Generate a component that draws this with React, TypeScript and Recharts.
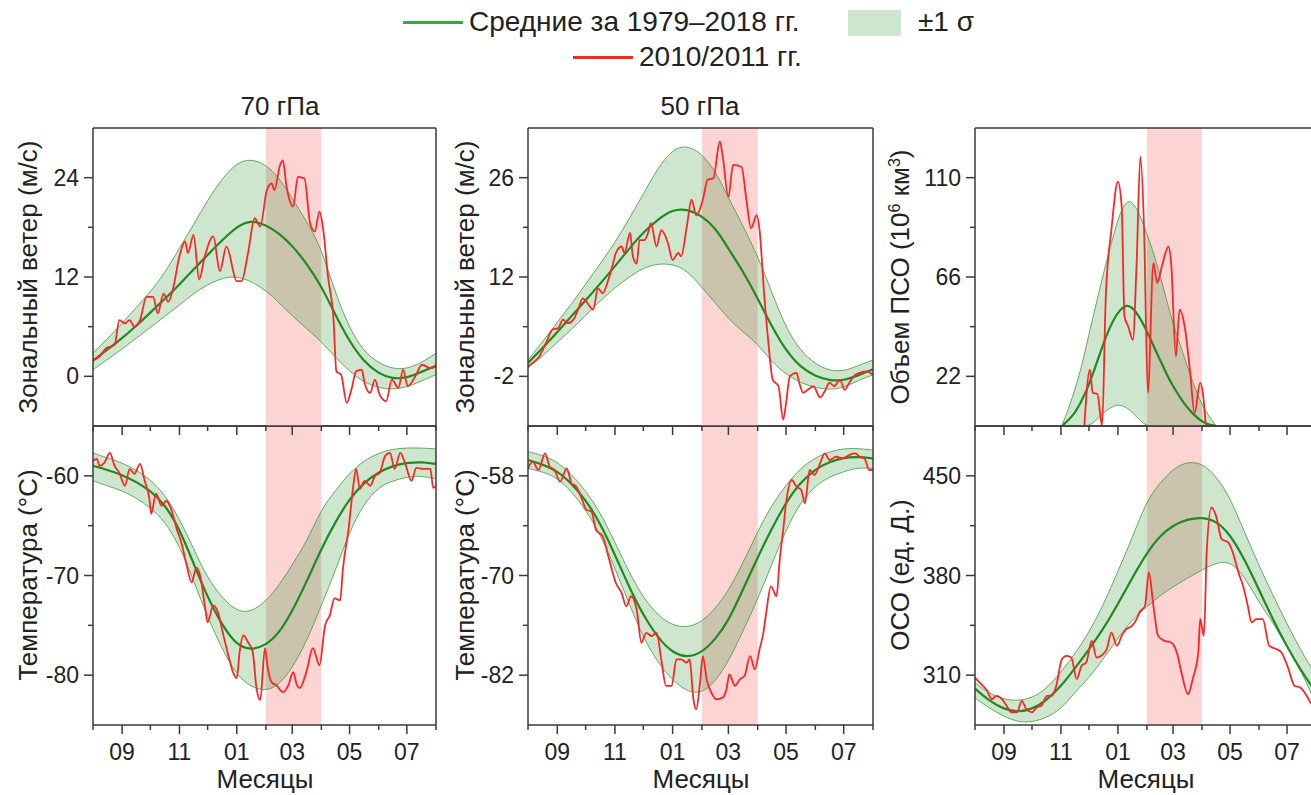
import { ComposedChart, Area, Line, XAxis, YAxis, ReferenceArea, ReferenceLine } from "recharts"

// days counted from 1 August
const bandDays = [0, 15, 31, 46, 61, 76, 92, 107, 122, 138, 153, 168, 184, 198, 212, 227, 243, 258, 273, 288, 304, 319, 334, 349, 365]
const monthTicks = [0, 31, 61, 92, 122, 153, 184, 212, 243, 273, 304, 334, 365]
const monthLabels: Record<number, string> = { 31: "09", 92: "11", 153: "01", 212: "03", 273: "05", 334: "07" }
const highlight = [184, 243]

// 70 hPa wind
const wind70Mean = [1.9, 3.2, 4.6, 6.1, 7.7, 9.3, 11.1, 12.9, 14.7, 16.5, 18.1, 18.9, 18.3, 17.3, 15.8, 13.7, 10.9, 7.4, 4.2, 1.8, 0.3, -0.3, -0.2, 0.5, 1.3]
const wind70Upper = [2.8, 4.5, 6.4, 8.3, 10.2, 12.4, 15.5, 18.3, 21.3, 24.0, 25.8, 26.3, 25.6, 24.0, 21.5, 18.8, 15.5, 10.0, 5.8, 3.0, 1.6, 0.9, 0.9, 1.6, 2.8]
const wind70Lower = [0.8, 2.0, 3.3, 4.6, 5.9, 7.2, 8.6, 10.0, 11.1, 11.9, 12.1, 11.5, 10.4, 8.9, 7.3, 5.8, 4.2, 2.3, 0.6, -0.7, -1.4, -1.6, -1.3, -0.6, 0.2]
const wind70Obs: [number, number][] = [
  [0, 2], [7, 2.4], [14, 3.4], [23, 3.8], [28, 6.8], [34, 6.4], [39, 6.8], [44, 6], [50, 6.8], [57, 9.6], [64, 9.6], [69, 7.6],
  [75, 10], [80, 9], [85, 10.5], [92, 14.5], [98, 16.3], [101, 14.9], [107, 17.1], [113, 11.7], [119, 14.5], [128, 16.9],
  [135, 12.7], [142, 15.7], [153, 11.5], [158, 11.5], [165, 14.9], [172, 19.1], [178, 18.1], [185, 22.5], [190, 23.3],
  [193, 22.5], [199, 25.5], [202, 26.1], [206, 22.9], [213, 20.5], [218, 24.1], [225, 23.9], [231, 18.5], [236, 17.5],
  [241, 19.9], [245, 17.7], [250, 12.1], [256, 6.8], [259, 0.6], [264, 0.2], [270, -3.2], [275, -1.6], [280, 0.6],
  [286, 0.8], [289, -0.8], [295, -2], [300, -0.4], [305, -2.2], [312, -3], [318, -0.4], [325, -1.4], [330, 0.8],
  [335, -1.2], [343, 0], [350, 1.4], [359, 1], [365, 1.2],
]

// 70 hPa temperature
const temp70Mean = [-59.0, -59.4, -59.9, -60.6, -61.5, -62.8, -65.3, -68.8, -72.2, -75.1, -77.0, -77.5, -77.0, -75.8, -73.6, -70.7, -67.3, -64.6, -62.3, -60.7, -59.6, -59.0, -58.7, -58.6, -58.8]
const temp70Upper = [-57.7, -58.2, -58.7, -59.4, -60.4, -61.8, -64.3, -67.3, -70.3, -72.3, -73.6, -73.7, -72.6, -71.0, -68.9, -66.7, -63.3, -61.5, -59.7, -58.5, -57.7, -57.3, -57.2, -57.2, -57.3]
const temp70Lower = [-60.5, -61.0, -61.5, -62.2, -63.2, -64.5, -67.0, -70.5, -74.2, -77.5, -80.0, -81.2, -81.6, -81.0, -79.3, -76.7, -73.0, -69.5, -65.6, -62.8, -61.1, -60.5, -60.1, -60.0, -60.3]
const temp70Obs: [number, number][] = [
  [0, -58.5], [4, -58.3], [7, -59], [12, -58.7], [18, -57.7], [23, -59], [28, -59.7], [34, -61], [39, -59.3], [44, -59.8],
  [50, -58.8], [55, -60.5], [60, -62.3], [62, -63.8], [67, -61.8], [73, -63], [78, -62.5], [83, -63.3], [89, -65.3],
  [94, -66.7], [99, -68.7], [105, -70.7], [110, -69.2], [114, -70], [119, -73], [122, -74.7], [128, -73], [133, -73.7],
  [138, -75.7], [144, -78], [149, -79.7], [153, -80.3], [156, -77.7], [160, -76], [165, -76.7], [170, -77.7], [174, -81.3],
  [178, -82.5], [183, -77.3], [186, -79.3], [190, -80.7], [195, -81], [202, -81.7], [208, -81], [213, -79.7], [217, -81],
  [220, -81.3], [227, -79.7], [234, -77.3], [241, -79], [247, -75], [252, -74], [257, -72.3], [263, -72.5], [266, -69.3],
  [272, -65.3], [277, -61], [280, -59.3], [284, -61.3], [289, -60.5], [295, -61], [300, -60], [305, -59.7], [311, -58],
  [316, -57.7], [321, -59.3], [327, -57.7], [332, -58.7], [339, -60.5], [344, -59.2], [351, -59.3], [359, -59.3],
  [362, -61.2], [365, -61],
]

// 50 hPa wind
const wind50Mean = [-0.1, 1.9, 4.2, 6.5, 8.7, 11.0, 13.5, 16.0, 18.3, 20.2, 21.5, 21.6, 20.6, 19.0, 16.0, 12.9, 9.0, 5.0, 1.6, -0.7, -2.0, -2.6, -2.6, -1.9, -1.0]
const wind50Upper = [0.3, 2.8, 5.6, 8.2, 11.0, 13.8, 16.8, 20.2, 23.7, 27.5, 30.0, 30.6, 29.4, 27.0, 23.2, 19.3, 15.0, 9.8, 4.8, 1.6, -0.3, -1.2, -1.3, -0.5, 0.3]
const wind50Lower = [-0.8, 0.8, 2.8, 4.6, 6.6, 8.6, 10.5, 12.0, 13.3, 13.9, 13.8, 13.0, 10.5, 8.4, 6.1, 4.3, 2.6, 0.0, -1.7, -2.9, -3.6, -3.9, -3.6, -2.6, -1.8]
const wind50Obs: [number, number][] = [
  [0, -0.6], [5, -0.1], [12, 0.8], [19, 2.7], [26, 4.6], [32, 4.8], [37, 6], [42, 5.5], [48, 6], [53, 7.4], [58, 9], [63, 8.3],
  [69, 7.4], [74, 10.4], [79, 9.7], [85, 11.6], [90, 13.9], [93, 15.4], [99, 16.3], [102, 15.4], [108, 18.2], [111, 14.9],
  [115, 13.9], [118, 17.2], [123, 17.2], [127, 18.2], [130, 19.6], [136, 16.3], [141, 18.6], [148, 16.8], [153, 14.4],
  [159, 15.4], [162, 14.9], [168, 19.1], [173, 22.9], [178, 20.7], [185, 22.9], [190, 25.7], [196, 25.9], [203, 31.1],
  [206, 29], [212, 23.3], [217, 27.8], [226, 27.5], [231, 22.9], [236, 18.9], [242, 20.7], [245, 18.6], [250, 9.3],
  [254, 3.2], [259, -2.5], [265, -3.4], [270, -8.1], [273, -5.8], [277, -2], [284, -1.5], [287, -2.9], [291, -4.3],
  [296, -3.9], [302, -3.4], [309, -5], [314, -4.1], [319, -2.9], [324, -3.4], [330, -2.5], [335, -3.9], [340, -2.9],
  [346, -1.8], [351, -1.5], [358, -1.3], [365, -1.8],
]

// 50 hPa temperature
const temp50Mean = [-56.1, -56.6, -57.4, -58.9, -60.9, -63.6, -67.5, -71.4, -74.8, -77.6, -79.3, -79.9, -79.3, -77.7, -75.5, -71.8, -67.8, -64.3, -61.2, -58.8, -57.2, -56.3, -55.8, -55.7, -55.9]
const temp50Upper = [-55.1, -55.5, -56.3, -57.8, -59.8, -62.3, -66.0, -69.6, -72.7, -74.9, -76.0, -76.3, -75.6, -74.0, -71.9, -68.6, -64.7, -61.5, -59.1, -57.1, -55.8, -55.1, -54.7, -54.7, -54.9]
const temp50Lower = [-57.1, -57.5, -58.2, -59.9, -62.1, -64.9, -69.1, -73.4, -77.5, -80.6, -82.6, -84.0, -84.2, -82.8, -80.4, -76.8, -72.9, -68.6, -64.5, -61.2, -59.2, -58.1, -57.5, -57.0, -57.1]
const temp50Obs: [number, number][] = [
  [0, -57.1], [5, -56.3], [11, -57.3], [18, -55.3], [23, -56.9], [28, -57.3], [34, -58.7], [41, -57.1], [46, -58.9],
  [51, -59.3], [56, -60.5], [62, -62.1], [67, -62.3], [72, -64.5], [79, -65.3], [86, -68.1], [93, -70.9], [99, -72.1],
  [104, -73.7], [109, -72.5], [115, -74.1], [120, -78.1], [125, -76.9], [131, -77.3], [136, -76.9], [141, -80.1],
  [146, -83.3], [152, -83.3], [157, -80.1], [162, -80.1], [168, -80.5], [171, -80.1], [175, -84.9], [178, -86.1],
  [182, -82.9], [185, -79.7], [189, -82.5], [194, -84.1], [199, -84.9], [206, -84.7], [210, -83.7], [213, -81.9],
  [219, -83.3], [224, -82.5], [229, -82.1], [235, -79.7], [240, -81.3], [245, -78.9], [249, -76.9], [252, -74.5],
  [257, -71.3], [263, -72.5], [266, -68.5], [270, -64.5], [273, -61.3], [279, -58.5], [284, -59.3], [289, -59.7],
  [293, -61.3], [298, -57.3], [303, -57.9], [309, -56.5], [314, -55.3], [319, -56.1], [326, -55.7], [333, -55.9],
  [340, -55.5], [346, -55.3], [351, -55.7], [356, -55.9], [361, -57.3], [365, -57.3],
]

// PSC volume
const psoDays = [93, 105, 114, 123, 132, 140, 148, 155, 162, 168, 176, 184, 191, 198, 205, 212, 219, 226, 233, 240, 248, 258]
const psoMean = [0, 4.3, 11, 19.1, 30, 39.7, 47, 51.5, 53.7, 52.8, 48.5, 42, 35.5, 29.4, 23, 17.6, 13, 8.7, 5.5, 2.9, 0.8, 0]
const psoUpper = [0, 13.2, 26, 42.6, 58, 72, 84, 94.3, 99.6, 99.6, 94.3, 85, 77, 67, 56, 45, 36.8, 28, 19.5, 12, 5.8, 0]
const psoLower = [0, 0, 0, 0, 3.5, 6.8, 8.8, 9.5, 8.2, 6.3, 2.6, 0, 0, 0, 0, 0, 0, 0, 0, 0, 0, 0]
const psoObs: [number, number][] = [
  [117, 0], [123, 25], [126, 14.7], [131, 14.2], [136, 0], [140, 57.4], [146, 86.9], [153, 108.2], [157, 97.2], [160, 48.5],
  [164, 44.1], [169, 38.2], [173, 72.1], [177, 119.3], [181, 86.9], [185, 14.7], [191, 72.1], [195, 63.3], [200, 70.6],
  [207, 79.4], [210, 72.1], [215, 30.8], [219, 51.5], [225, 42.6], [230, 25], [235, 5.8], [241, 19.1], [244, 14.2], [247, 0],
]

// total ozone
const ozoneMean = [300.6, 292, 286, 284, 286, 292, 302, 315, 328, 343, 360, 378, 396, 408, 415.3, 419.5, 421, 418.5, 409, 392, 370, 349, 330, 313, 298]
const ozoneUpper = [304.8, 297, 293, 292, 294, 300, 312, 325, 340, 360, 383, 406, 433, 445, 455, 460, 459, 450, 435, 411, 387, 366, 346, 327, 310]
const ozoneLower = [294, 287, 281, 277, 277, 280, 286, 298, 308, 322, 336, 349, 358, 366, 372, 378, 384, 389, 390, 380, 361, 347, 330, 313, 290]
const ozoneObs: [number, number][] = [
  [0, 308.3], [5, 304.8], [13, 299], [18, 293.1], [23, 295.5], [29, 293.1], [34, 288.4], [39, 283.8], [45, 283.8], [50, 292],
  [55, 286.1], [61, 283.8], [66, 287.3], [71, 288.4], [77, 295.5], [82, 295.5], [87, 302.5], [93, 321.2], [98, 323.6],
  [103, 322.4], [109, 307.2], [114, 316.5], [119, 318.9], [125, 334.1], [130, 322.4], [135, 323.6], [141, 328.2],
  [146, 339.9], [152, 330.6], [157, 337.6], [162, 342.3], [168, 344.6], [173, 349.3], [176, 354], [182, 358.7],
  [186, 382.1], [191, 358.7], [196, 337.6], [203, 334.1], [210, 332.9], [216, 325.9], [221, 311.9], [228, 296.6],
  [233, 307.2], [239, 325.9], [241, 349.3], [245, 337.6], [248, 396.1], [253, 427.8], [258, 421.9], [264, 405.5],
  [271, 403.2], [276, 396.1], [282, 382.1], [287, 372.7], [292, 358.7], [296, 347], [301, 349.3], [308, 349.3],
  [315, 330.6], [323, 328.2], [328, 325.9], [335, 315.4], [342, 302.5], [348, 301.3], [355, 295.5], [359, 290.8], [365, 287],
]

const FONT = '"Liberation Sans", Arial, sans-serif'
const AXIS = "#3a3a3a"
const TEXT = "#222"
const RED = "#ff2424"
const GREEN = "#1f8a1f"

type BandRow = { day: number; mean: number; range: [number, number] }
type ObsRow = { day: number; obs: number }

const bandRows = (days: number[], mean: number[], upper: number[], lower: number[]): BandRow[] =>
  days.map((day, i) => ({ day, mean: mean[i], range: [lower[i], upper[i]] }))
const obsRows = (pairs: [number, number][]): ObsRow[] => pairs.map(([day, obs]) => ({ day, obs }))

const xTick = (showLabel: boolean) => (props: any) => {
  const { x, y, payload } = props
  const label = monthLabels[payload.value]
  const len = label ? 9 : 5
  return (
    <g>
      <line x1={x} x2={x} y1={y} y2={y + len} stroke={AXIS} strokeWidth={1.5} />
      {showLabel && label && (
        <text x={x} y={y + 27} textAnchor="middle" dominantBaseline="central" fontSize={23} fill={TEXT} fontFamily={FONT}>
          {label}
        </text>
      )}
    </g>
  )
}

const yTick = (majors: number[]) => (props: any) => {
  const { x, y, payload } = props
  const major = majors.includes(payload.value)
  const len = major ? 9 : 5
  return (
    <g>
      <line x1={x - len} x2={x} y1={y} y2={y} stroke={AXIS} strokeWidth={1.5} />
      {major && (
        <text x={x - 14} y={y} textAnchor="end" dominantBaseline="central" fontSize={23} fill={TEXT} fontFamily={FONT}>
          {payload.value}
        </text>
      )}
    </g>
  )
}

type PanelProps = {
  left: number
  top: number
  width: number
  height: number
  yWidth: number
  xHeight: number
  domain: [number, number]
  major: number[]
  minor: number[]
  band: BandRow[]
  obs: ObsRow[]
  showLabels: boolean
}

function Panel(p: PanelProps) {
  return (
    <div style={{ position: "absolute", left: p.left, top: p.top }}>
      <ComposedChart width={p.width} height={p.height} margin={{ top: 5, right: 10, bottom: 0, left: 0 }}>
        <ReferenceArea x1={highlight[0]} x2={highlight[1]} fill="#fcd4d4" fillOpacity={1} stroke="none" />
        <Area
          data={p.band}
          dataKey="range"
          type="basis"
          fill="#1f8f1f"
          fillOpacity={0.22}
          stroke="#3f9a3f"
          strokeOpacity={0.8}
          strokeWidth={1}
          isAnimationActive={false}
        />
        <Line data={p.band} dataKey="mean" type="basis" stroke={GREEN} strokeWidth={2.2} dot={false} isAnimationActive={false} />
        <Line data={p.obs} dataKey="obs" type="monotone" stroke={RED} strokeWidth={1.8} dot={false} isAnimationActive={false} />
        <ReferenceLine y={p.domain[1]} stroke={AXIS} strokeWidth={1.5} ifOverflow="visible" />
        <ReferenceLine x={365} stroke={AXIS} strokeWidth={1.5} ifOverflow="visible" />
        <XAxis
          type="number"
          dataKey="day"
          domain={[0, 365]}
          ticks={monthTicks}
          interval={0}
          allowDataOverflow
          height={p.xHeight}
          tickLine={false}
          tickSize={0}
          tickMargin={0}
          tick={xTick(p.showLabels)}
          axisLine={{ stroke: AXIS, strokeWidth: 1.5 }}
        />
        <YAxis
          type="number"
          domain={p.domain}
          ticks={[...p.major, ...p.minor]}
          interval={0}
          allowDataOverflow
          width={p.yWidth}
          tickLine={false}
          tickSize={0}
          tickMargin={0}
          tick={yTick(p.major)}
          axisLine={{ stroke: AXIS, strokeWidth: 1.5 }}
        />
      </ComposedChart>
    </div>
  )
}

const cols = [
  { left: 0, width: 446, yWidth: 93 },
  { left: 440, width: 443, yWidth: 88 },
  { left: 880, width: 446, yWidth: 95 },
]

const topRow = { top: 123, height: 315, xHeight: 12, showLabels: false }
const bottomRow = { top: 421, height: 349, xHeight: 45, showLabels: true }

const textStyle = { position: "absolute" as const, color: TEXT, fontFamily: FONT, whiteSpace: "nowrap" as const, lineHeight: 1 }

function VLabel({ x, y, children }: { x: number; y: number; children: React.ReactNode }) {
  return (
    <div style={{ ...textStyle, left: x, top: y, fontSize: 26, transform: "translate(-50%, -50%) rotate(-90deg)" }}>
      {children}
    </div>
  )
}

function CLabel({ x, y, size, children }: { x: number; y: number; size: number; children: React.ReactNode }) {
  return <div style={{ ...textStyle, left: x, top: y, fontSize: size, transform: "translate(-50%, -50%)" }}>{children}</div>
}

export default function App() {
  return (
    <div style={{ position: "fixed", left: 0, top: 0, width: 1311, height: 795, overflow: "hidden", background: "#fff", fontFamily: FONT }}>
      {/* legend */}
      <div style={{ position: "absolute", left: 403, top: 21, width: 60, height: 2.5, background: "#3aa83a" }} />
      <div style={{ ...textStyle, left: 469, top: 8, fontSize: 28 }}>Средние за 1979–2018 гг.</div>
      <div style={{ position: "absolute", left: 848, top: 10, width: 53, height: 26, background: "rgba(31,143,31,0.22)" }} />
      <div style={{ ...textStyle, left: 918, top: 8, fontSize: 28 }}>±1 σ</div>
      <div style={{ position: "absolute", left: 573, top: 56, width: 60, height: 2.5, background: RED }} />
      <div style={{ ...textStyle, left: 639, top: 43, fontSize: 28 }}>2010/2011 гг.</div>

      <CLabel x={280} y={106} size={26}>70 гПа</CLabel>
      <CLabel x={700} y={106} size={26}>50 гПа</CLabel>

      {/* bottom row first so top-row ticks are drawn over it */}
      <Panel {...cols[0]} {...bottomRow} domain={[-85, -55]} major={[-80, -70, -60]} minor={[-75, -65]}
        band={bandRows(bandDays, temp70Mean, temp70Upper, temp70Lower)} obs={obsRows(temp70Obs)} />
      <Panel {...cols[1]} {...bottomRow} domain={[-88, -52]} major={[-82, -70, -58]} minor={[-76, -64]}
        band={bandRows(bandDays, temp50Mean, temp50Upper, temp50Lower)} obs={obsRows(temp50Obs)} />
      <Panel {...cols[2]} {...bottomRow} domain={[275, 485]} major={[310, 380, 450]} minor={[345, 415]}
        band={bandRows(bandDays, ozoneMean, ozoneUpper, ozoneLower)} obs={obsRows(ozoneObs)} />

      <Panel {...cols[0]} {...topRow} domain={[-6, 30]} major={[0, 12, 24]} minor={[6, 18]}
        band={bandRows(bandDays, wind70Mean, wind70Upper, wind70Lower)} obs={obsRows(wind70Obs)} />
      <Panel {...cols[1]} {...topRow} domain={[-9, 33]} major={[-2, 12, 26]} minor={[5, 19]}
        band={bandRows(bandDays, wind50Mean, wind50Upper, wind50Lower)} obs={obsRows(wind50Obs)} />
      <Panel {...cols[2]} {...topRow} domain={[0, 132]} major={[22, 66, 110]} minor={[44, 88]}
        band={bandRows(psoDays, psoMean, psoUpper, psoLower)} obs={obsRows(psoObs)} />

      <VLabel x={28} y={277}>Зональный ветер (м/с)</VLabel>
      <VLabel x={28} y={575}>Температура (°C)</VLabel>
      <VLabel x={465} y={277}>Зональный ветер (м/с)</VLabel>
      <VLabel x={465} y={575}>Температура (°C)</VLabel>
      <VLabel x={900} y={277}>
        Объем ПСО (10<sup style={{ fontSize: 16 }}>6</sup> км<sup style={{ fontSize: 16 }}>3</sup>)
      </VLabel>
      <VLabel x={900} y={575}>ОСО (ед. Д.)</VLabel>

      <CLabel x={265} y={779} size={26}>Месяцы</CLabel>
      <CLabel x={701} y={779} size={26}>Месяцы</CLabel>
      <CLabel x={1146} y={779} size={26}>Месяцы</CLabel>
    </div>
  )
}
